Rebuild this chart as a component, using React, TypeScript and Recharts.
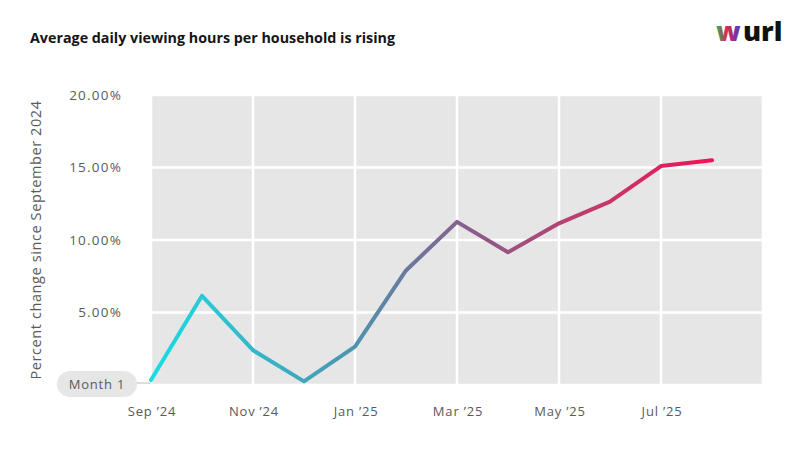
import React from 'react';
import { LineChart, Line, XAxis, YAxis, CartesianGrid } from 'recharts';

const monthIndex = [0, 1, 2, 3, 4, 5, 6, 7, 8, 9, 10, 11];
const monthLabels = ["Sep ’24", "Oct ’24", "Nov ’24", "Dec ’24", "Jan ’25", "Feb ’25", "Mar ’25", "Apr ’25", "May ’25", "Jun ’25", "Jul ’25", "Aug ’25"];
const pctChange = [0.35, 6.15, 2.4, 0.25, 2.65, 7.9, 11.25, 9.15, 11.15, 12.65, 15.1, 15.5];
const xTicks = [0, 2, 4, 6, 8, 10];
const yTicks = [0, 5, 10, 15, 20];
const zeroLabel = "Month 1";

const data = monthIndex.map((m, i) => ({ m, label: monthLabels[i], v: pctChange[i] }));

const FONT = '"Open Sans", Lato, sans-serif';
const GREY = '#5a5a5a';

const YTick = (props: any) => {
  const { x, y, payload } = props;
  if (payload.value === 0) {
    return (
      <g>
        <line x1={x + 14} x2={x + 29} y1={y - 2} y2={y - 2} stroke="#d2d2d2" strokeWidth={1.5} />
        <rect x={x - 65} y={y - 14} width={80} height={26} rx={13} ry={13} fill="#e6e6e6" />
        <text x={x - 25} y={y - 1} dy="0.35em" textAnchor="middle" fill={GREY} fontSize={13} letterSpacing={0.8} fontFamily={FONT}>
          {zeroLabel}
        </text>
      </g>
    );
  }
  return (
    <text x={x} y={y} dy="0.35em" textAnchor="end" fill={GREY} fontSize={13.5} letterSpacing={1.2} fontFamily={FONT}>
      {payload.value.toFixed(2) + '%'}
    </text>
  );
};

const XTick = (props: any) => {
  const { x, y, payload } = props;
  return (
    <text x={x + 1} y={y} dy="0.71em" textAnchor="middle" fill={GREY} fontSize={13} letterSpacing={0.8} fontFamily={FONT}>
      {monthLabels[payload.value]}
    </text>
  );
};

export default function App() {
  return (
    <div style={{ position: 'relative', width: 800, height: 450, background: '#fff', fontFamily: FONT }}>
      <style>{`body{margin:0;}`}</style>
      <div style={{ position: 'absolute', left: 30, top: 28, fontSize: 14.3, fontWeight: 700, color: '#151515' }}>
        Average daily viewing hours per household is rising
      </div>
      <svg style={{ position: 'absolute', left: 0, top: 0 }} width={800} height={60}>
        <defs>
          <linearGradient id="wgrad" x1="0" y1="0" x2="1" y2="0">
            <stop offset="0" stopColor="#18b86a" />
            <stop offset="0.45" stopColor="#e8234e" />
            <stop offset="1" stopColor="#3a3fd8" />
          </linearGradient>
        </defs>
        <text x={716} y={41} fontSize={27} fontWeight={800} fontFamily={FONT} fill="url(#wgrad)">w</text>
        <text x={743} y={41} fontSize={27} fontWeight={800} fontFamily={FONT} fill="#111">url</text>
      </svg>
      <LineChart
        width={800}
        height={450}
        data={data}
        margin={{ top: 95, right: 37, bottom: 35, left: 51 }}
        style={{ position: 'absolute', left: 0, top: 0 }}
      >
        <defs>
          <linearGradient id="lineGrad" x1="0" y1="0" x2="1" y2="0">
            <stop offset="0" stopColor="#1adce4" />
            <stop offset="0.35" stopColor="#4b97b0" />
            <stop offset="0.55" stopColor="#86608f" />
            <stop offset="0.78" stopColor="#c23a6c" />
            <stop offset="1" stopColor="#ef1357" />
          </linearGradient>
        </defs>
        <CartesianGrid fill="#e6e6e6" stroke="#ffffff" strokeWidth={2.5} />
        <XAxis
          dataKey="m"
          type="number"
          domain={[0, 12]}
          ticks={xTicks}
          axisLine={false}
          tickLine={false}
          tickMargin={16}
          height={30}
          tick={<XTick />}
          interval={0}
        />
        <YAxis
          type="number"
          domain={[0, 20]}
          ticks={yTicks}
          axisLine={false}
          tickLine={false}
          tickMargin={23}
          width={100}
          tick={<YTick />}
          interval={0}
          label={{
            value: 'Percent change since September 2024',
            angle: -90,
            position: 'insideLeft',
            dx: -20,
            dy: 0,
            style: { textAnchor: 'middle', fill: GREY, fontSize: 14.5, letterSpacing: 0.6, fontFamily: FONT },
          }}
        />
        <Line
          type="linear"
          dataKey="v"
          stroke="url(#lineGrad)"
          strokeWidth={4}
          strokeLinecap="round"
          strokeLinejoin="round"
          dot={false}
          activeDot={false}
          isAnimationActive={false}
        />
      </LineChart>
    </div>
  );
}
